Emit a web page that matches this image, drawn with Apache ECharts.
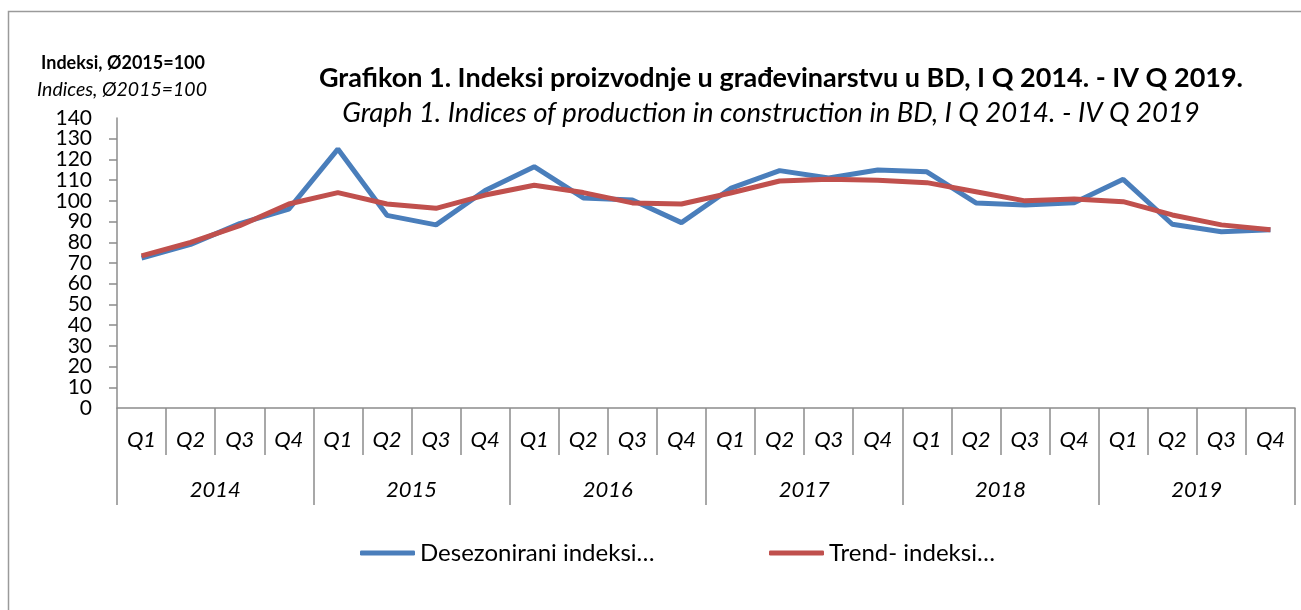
<!DOCTYPE html>
<html>
<head>
<meta charset="utf-8">
<script src="https://cdn.jsdelivr.net/npm/echarts@6/dist/echarts.min.js"></script>
<style>
  html, body { margin: 0; padding: 0; background: #fff; }
  #chart { width: 1301px; height: 610px; }
</style>
</head>
<body>
<div id="chart"></div>
<script>
var quarters = ['Q1', 'Q2', 'Q3', 'Q4', 'Q1', 'Q2', 'Q3', 'Q4', 'Q1', 'Q2', 'Q3', 'Q4',
                'Q1', 'Q2', 'Q3', 'Q4', 'Q1', 'Q2', 'Q3', 'Q4', 'Q1', 'Q2', 'Q3', 'Q4'];
var years = ['2014', '2015', '2016', '2017', '2018', '2019'];

// Desezonirani indeksi
var desezonirani = [72.4, 79, 89, 96, 125, 93, 88.4, 105, 116.5, 101.4, 100.4, 89.5,
                    106, 114.6, 111, 114.9, 114, 99, 98, 99.1, 110.4, 88.7, 85.1, 86];
// Trend indeksi
var trend = [73.4, 80, 88, 98.5, 104, 98.5, 96.4, 102.8, 107.5, 104, 99, 98.5,
             103.8, 109.6, 110.4, 110, 108.8, 104.4, 100, 100.9, 99.6, 93.2, 88.4, 86];

var yTicks = { min: 0, max: 140, interval: 10 };

var font = 'Lato, "Open Sans", sans-serif';
var axisGray = '#8c8c8c';

var myChart = echarts.init(document.getElementById('chart'), null, { renderer: 'canvas' });

// oznake osi Y: prva os crta 10..130, druga samo 0 i 140 (inače se preklapaju i ECharts ih sakrije)
var yLabelStyle = { fontSize: 21, margin: 25, color: '#000' };

var option = {
    animation: false,
    backgroundColor: '#fff',
    textStyle: { fontFamily: font, color: '#000' },
    graphic: [
        {
            type: 'rect',
            shape: { x: 8.5, y: 11.5, width: 1400, height: 700 },
            style: { fill: 'none', stroke: '#9a9a9a', lineWidth: 1.5 },
            silent: true
        },
        {
            type: 'text', x: 123, y: 63,
            style: { text: 'Indeksi, Ø2015=100', font: 'bold 18px ' + font, fill: '#000',
                     textAlign: 'center', textVerticalAlign: 'middle' }
        },
        {
            type: 'text', x: 122, y: 90,
            style: { text: 'Indices, Ø2015=100', font: 'italic 19.5px ' + font, fill: '#000',
                     textAlign: 'center', textVerticalAlign: 'middle' }
        },
        {
            type: 'text', x: 781, y: 78,
            style: { text: 'Grafikon 1. Indeksi proizvodnje u građevinarstvu u BD, I Q 2014. - IV Q 2019.',
                     font: 'bold 27px ' + font, fill: '#000',
                     textAlign: 'center', textVerticalAlign: 'middle' }
        },
        {
            type: 'text', x: 771, y: 113,
            style: { text: 'Graph 1. Indices of production in construction in BD, I Q 2014. - IV Q 2019',
                     font: 'italic 27.5px ' + font, fill: '#000',
                     textAlign: 'center', textVerticalAlign: 'middle' }
        }
    ],
    legend: [
        {
            data: ['Desezonirani indeksi…'],
            left: 360, top: 541, padding: 0,
            icon: 'roundRect',
            itemWidth: 55, itemHeight: 5,
            textStyle: { fontSize: 24, fontFamily: font, color: '#000' }
        },
        {
            data: ['Trend- indeksi…'],
            left: 769, top: 541, padding: 0,
            icon: 'roundRect',
            itemWidth: 55, itemHeight: 5,
            textStyle: { fontSize: 24, fontFamily: font, color: '#000' }
        }
    ],
    grid: {
        left: 117,
        right: 6,
        top: 118,
        bottom: 202
    },
    xAxis: [
        {
            type: 'category',
            data: quarters,
            boundaryGap: true,
            axisLine: { show: true, lineStyle: { color: axisGray, width: 1.5 } },
            axisTick: { show: true, interval: 0, length: 47, lineStyle: { color: axisGray, width: 1.5 } },
            axisLabel: { interval: 0, fontStyle: 'italic', fontSize: 22, margin: 21, color: '#000' },
            splitLine: { show: false }
        },
        {
            type: 'category',
            data: years,
            position: 'bottom',
            boundaryGap: true,
            axisLine: { show: false },
            axisTick: { show: true, interval: 0, length: 97, lineStyle: { color: axisGray, width: 1.5 } },
            axisLabel: { interval: 0, fontStyle: 'italic', fontSize: 22, margin: 71, color: '#000' },
            splitLine: { show: false }
        }
    ],
    yAxis: [
        {
            type: 'value',
            min: yTicks.min,
            max: yTicks.max,
            interval: yTicks.interval,
            axisLine: { show: true, lineStyle: { color: axisGray, width: 1.5 } },
            axisTick: { show: true, length: 8, lineStyle: { color: axisGray, width: 1.5 } },
            axisLabel: Object.assign({ showMinLabel: false, showMaxLabel: false }, yLabelStyle),
            splitLine: { show: false }
        },
        {
            type: 'value',
            position: 'left',
            min: yTicks.min,
            max: yTicks.max,
            interval: yTicks.interval,
            axisLine: { show: false },
            axisTick: { show: false },
            axisLabel: Object.assign({
                showMinLabel: true, showMaxLabel: true,
                formatter: function (v) {
                    return (v === yTicks.min || v === yTicks.max) ? String(v) : '';
                }
            }, yLabelStyle),
            splitLine: { show: false }
        }
    ],
    series: [
        {
            name: 'Desezonirani indeksi…',
            type: 'line',
            xAxisIndex: 0,
            yAxisIndex: 0,
            data: desezonirani,
            symbol: 'none',
            lineStyle: { color: '#4a7ebb', width: 5 },
            itemStyle: { color: '#4a7ebb' }
        },
        {
            name: 'Trend- indeksi…',
            type: 'line',
            xAxisIndex: 0,
            yAxisIndex: 0,
            data: trend,
            symbol: 'none',
            lineStyle: { color: '#c0504d', width: 5 },
            itemStyle: { color: '#c0504d' }
        }
    ]
};

myChart.setOption(option);
</script>
</body>
</html>
